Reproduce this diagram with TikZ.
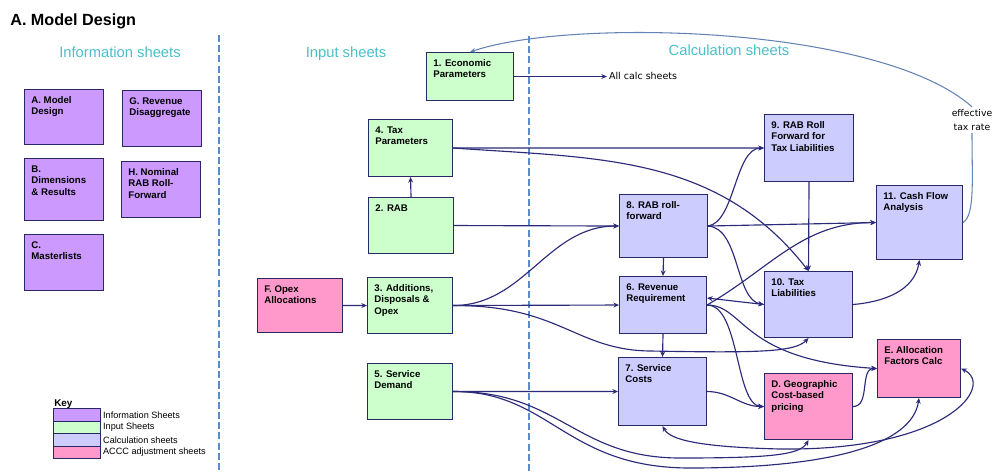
\documentclass[tikz,border=0pt]{standalone}
\usepackage{fontspec}
\setmainfont{Liberation Sans}
\newfontfamily\notefont{DejaVu Sans}
\usepackage{tikz}
\definecolor{InfoPurple}{RGB}{204,153,255}
\definecolor{InputGreen}{RGB}{204,255,204}
\definecolor{CalcBlue}{RGB}{204,204,255}
\definecolor{AcccPink}{RGB}{255,153,204}
\definecolor{BoxEdge}{RGB}{40,40,100}
\definecolor{FlowNavy}{RGB}{43,43,122}
\definecolor{SplitBlue}{RGB}{90,140,205}
\definecolor{HeadTeal}{RGB}{75,190,200}
\definecolor{RateBlue}{RGB}{100,130,180}
\usetikzlibrary{
	positioning,
	calc,
	arrows.meta
}

\begin{document}
\begin{tikzpicture}[
		x=0.02cm, y=-0.02cm,
		sheet/.style={draw=BoxEdge, line width=0.6pt, anchor=north west, inner sep=0pt},
		infosheet/.style={sheet, fill=InfoPurple},
		inputsheet/.style={sheet, fill=InputGreen},
		calcsheet/.style={sheet, fill=CalcBlue},
		acccsheet/.style={sheet, fill=AcccPink},
		txt/.style={anchor=north west, align=left, inner xsep=4pt, inner ysep=4pt, font=\fontsize{5.5}{6.6}\selectfont\bfseries},
		keytxt/.style={anchor=west, inner xsep=1pt, inner ysep=0pt, font=\fontsize{5.2}{6}\selectfont},
		heading/.style={anchor=base, inner sep=0pt, text=HeadTeal, font=\fontsize{8.4}{10}\selectfont},
		divider/.style={draw=SplitBlue, line width=1.3pt, dash pattern=on 4pt off 1.8pt},
		flow/.style={draw=FlowNavy, line width=0.65pt, >={Stealth[length=3.2pt, width=2.8pt]}},
		rate/.style={draw=RateBlue, line width=0.6pt, >={Stealth[length=3.2pt, width=2.8pt]}}
	]
	\useasboundingbox (0,0) rectangle (998,471);

	\node[anchor=base west, inner sep=0pt, font=\fontsize{9.2}{11}\selectfont\bfseries] at(10,25) (title) {A. Model Design};

	% column headings and dividers
	\node[heading] at(120,57) (info-h) {Information sheets};
	\node[heading] at(346,57) (input-h) {Input sheets};
	\node[heading] at(729,55) (calc-h) {Calculation sheets};
	\draw[divider] (219,35) -- (219,471);
	\draw[divider] (529,36) -- (529,471);

	% information sheets
	\node[infosheet, minimum width=1.58cm, minimum height=1.10cm] at(24,89) (modeldesign) {};
	\node[txt] at(modeldesign.north west) (modeldesign-t) {A. Model\\Design};
	\node[infosheet, minimum width=1.58cm, minimum height=1.12cm] at(122,90) (revdisagg) {};
	\node[txt] at(revdisagg.north west) (revdisagg-t) {G. Revenue\\Disaggregate};
	\node[infosheet, minimum width=1.58cm, minimum height=1.24cm] at(24,158) (dimres) {};
	\node[txt] at(dimres.north west) (dimres-t) {B.\\Dimensions\\\& Results};
	\node[infosheet, minimum width=1.58cm, minimum height=1.12cm] at(121,161) (nomrab) {};
	\node[txt] at(nomrab.north west) (nomrab-t) {H. Nominal\\RAB Roll-\\Forward};
	\node[infosheet, minimum width=1.58cm, minimum height=1.12cm] at(24,234) (master) {};
	\node[txt] at(master.north west) (master-t) {C.\\Masterlists};

	% input sheets
	\node[inputsheet, minimum width=1.74cm, minimum height=0.96cm] at(426,52) (econ) {};
	\node[txt] at(econ.north west) (econ-t) {1. Economic\\Parameters};
	\node[inputsheet, minimum width=1.68cm, minimum height=1.14cm] at(368,119) (taxpar) {};
	\node[txt] at(taxpar.north west) (taxpar-t) {4. Tax\\Parameters};
	\node[inputsheet, minimum width=1.70cm, minimum height=1.12cm] at(368,197) (rab) {};
	\node[txt] at(rab.north west) (rab-t) {2. RAB};
	\node[acccsheet, minimum width=1.70cm, minimum height=1.08cm] at(257,278) (opexalloc) {};
	\node[txt] at(opexalloc.north west) (opexalloc-t) {F. Opex\\Allocations};
	\node[inputsheet, minimum width=1.70cm, minimum height=1.12cm] at(367,277) (additions) {};
	\node[txt] at(additions.north west) (additions-t) {3. Additions,\\Disposals \&\\Opex};
	\node[inputsheet, minimum width=1.70cm, minimum height=1.12cm] at(367,363) (demand) {};
	\node[txt] at(demand.north west) (demand-t) {5. Service\\Demand};

	% calculation sheets
	\node[calcsheet, minimum width=1.76cm, minimum height=1.26cm] at(619,194) (rabroll) {};
	\node[txt] at(rabroll.north west) (rabroll-t) {8. RAB roll-\\forward};
	\node[calcsheet, minimum width=1.74cm, minimum height=1.14cm] at(619,276) (revreq) {};
	\node[txt] at(revreq.north west) (revreq-t) {6. Revenue\\Requirement};
	\node[calcsheet, minimum width=1.76cm, minimum height=1.36cm] at(618,357) (svccost) {};
	\node[txt] at(svccost.north west) (svccost-t) {7. Service\\Costs};
	\node[calcsheet, minimum width=1.78cm, minimum height=1.34cm] at(764,114) (rabtax) {};
	\node[txt] at(rabtax.north west) (rabtax-t) {9. RAB Roll\\Forward for\\Tax Liabilities};
	\node[calcsheet, minimum width=1.72cm, minimum height=1.48cm] at(876,185) (cashflow) {};
	\node[txt] at(cashflow.north west) (cashflow-t) {11. Cash Flow\\Analysis};
	\node[calcsheet, minimum width=1.76cm, minimum height=1.32cm] at(764,271) (taxliab) {};
	\node[txt] at(taxliab.north west) (taxliab-t) {10. Tax\\Liabilities};
	\node[acccsheet, minimum width=1.66cm, minimum height=1.16cm] at(877,339) (alloc) {};
	\node[txt] at(alloc.north west) (alloc-t) {E. Allocation\\Factors Calc};
	\node[acccsheet, minimum width=1.76cm, minimum height=1.32cm] at(764,373) (geo) {};
	\node[txt] at(geo.north west) (geo-t) {D. Geographic\\Cost-based\\pricing};

	% notes
	\node[anchor=west, inner sep=1pt, font=\notefont\fontsize{5.4}{6}\selectfont] at(607,76) (allcalc) {All calc sheets};
	\node[align=center, inner sep=1pt, font=\notefont\fontsize{5.3}{8.5}\selectfont] at(972,120) (efftax) {effective\\tax rate};

	% key
	\node[anchor=base west, inner sep=0pt, font=\fontsize{5.6}{6}\selectfont\bfseries] at(54,406) (key) {Key};
	\node[infosheet, minimum width=0.94cm, minimum height=0.25cm] at(53,408) (key-info) {};
	\node[keytxt] at(key-info.east) (key-info-t) {Information Sheets};
	\node[inputsheet, minimum width=0.94cm, minimum height=0.25cm] at(53,420.5) (key-input) {};
	\node[keytxt] at(key-input.east) (key-input-t) {Input Sheets};
	\node[calcsheet, minimum width=0.94cm, minimum height=0.25cm] at(53,433) (key-calc) {};
	\node[keytxt] at(key-calc.east) (key-calc-t) {Calculation sheets};
	\node[acccsheet, minimum width=0.94cm, minimum height=0.25cm] at(53,445.5) (key-accc) {};
	\node[keytxt] at(key-accc.east) (key-accc-t) {ACCC adjustment sheets};

	% effective tax rate loop
	\draw[rate, ->] (efftax.north) .. controls (880,25) and (570,18) .. (econ.north);
	\draw[rate] (cashflow.east) .. controls (975,215) and (972,180) .. (efftax.south);

	\begin{scope}[flow]
		\draw[->] (econ.east) -- (econ.east -| allcalc.west);
		\draw[->] (rab.north) -- (taxpar.south);
		\draw[->] (opexalloc.east) -- (additions.west);
		\draw[->] (taxpar.east) -- (rabtax.west);
		\draw[->] (taxpar.east) to[out=-4, in=128] (taxliab.north);
		\draw[->] (rabtax.south) -- (taxliab.north);
		\draw[->] (rab.east) -- (rabroll.west);
		\draw[->] (additions.east) to[out=0, in=180] (rabroll.west);
		\draw[->] (additions.east) -- (revreq.west);
		\draw[->] (additions.east) .. controls (560,305) and (575,350) .. (650,351) .. controls (760,353) and (795,352) .. (taxliab.south);

		\draw[->] (rabroll.south) -- (revreq.north);
		\draw[->] (revreq.south) -- (svccost.north);
		\draw[->] (rabroll.east) .. controls (735,222) and (735,148) .. (rabtax.west);
		\draw[->] (rabroll.east) -- (cashflow.west);
		\draw[->] (rabroll.east) .. controls (740,228) and (735,300) .. (taxliab.west);
		\draw[<->] ([yshift=4pt]revreq.east) -- (taxliab.west);
		\draw[->] (revreq.east) to[out=30, in=180] (cashflow.west);
		\draw[->] (revreq.east) .. controls (745,305) and (740,360) .. (alloc.west);
		\draw[->] (revreq.east) .. controls (740,305) and (735,405) .. (geo.west);
		\draw[->] (svccost.east) to[out=0, in=180] (geo.west);
		\draw[->] (geo.east) to[out=0, in=180] (alloc.west);
		\draw[->] (taxliab.east) to[out=5, in=-100] (cashflow.south);

		\draw[->] (demand.east) -- (svccost.west);
		\draw[->] (demand.east) .. controls (560,391) and (575,458) .. (680,458) .. controls (770,458) and (800,455) .. (geo.south);
		\draw[->] (demand.east) .. controls (550,391) and (565,468) .. (690,468) .. controls (830,468) and (912,445) .. (alloc.south);
		\draw[<->] (svccost.south) .. controls (670,440) and (700,447) .. (780,449) .. controls (950,451) and (995,385) .. (alloc.east);
	\end{scope}
\end{tikzpicture}
\end{document}
